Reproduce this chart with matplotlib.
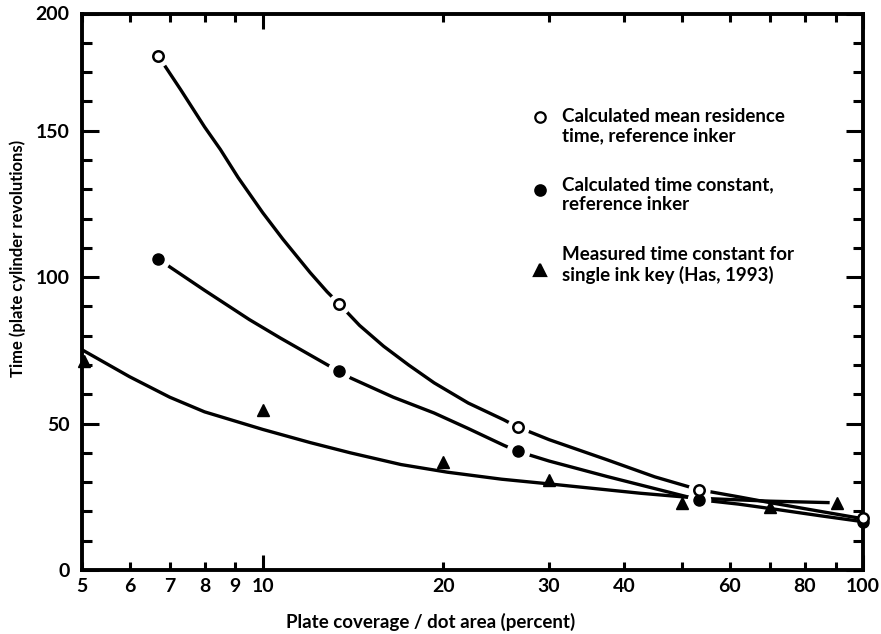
import numpy as np
import matplotlib
matplotlib.use("Agg")
import matplotlib.pyplot as plt
from matplotlib.ticker import FixedLocator, FixedFormatter, NullFormatter

plt.rcParams['font.family'] = ['Lato', 'DejaVu Sans']
plt.rcParams['font.weight'] = 'bold'

# Data points
mean_res_x = [6.7, 13.4, 26.6, 53.3, 100]
mean_res_y = [175.5, 90.9, 48.8, 27.4, 17.7]

time_const_x = [6.7, 13.4, 26.6, 53.3, 100]
time_const_y = [106.3, 67.8, 40.5, 24.0, 16.5]

measured_x = [5.03, 10, 20, 30, 50, 70, 90.5]
measured_y = [71.2, 54.7, 37.0, 30.8, 22.8, 21.5, 22.9]

# Fitted curves (traced points)
mean_curve_x = [6.7, 7.3, 8.0, 8.5, 9.1, 10.0, 10.8, 12.0, 12.8, 13.4, 14.5, 15.9, 17.5, 19.3,
                22, 25.2, 26.6, 30, 37.5, 45, 53.3, 62, 70, 85, 100]
mean_curve_y = [175.5, 164, 151.3, 143.6, 134, 122, 113, 101.5, 95, 90.9, 83.5, 76.4, 70, 63.9,
                57, 51.3, 48.8, 44.5, 37.6, 31.8, 27.4, 25, 23, 20, 17.5]

const_curve_x = [6.7, 7.0, 8.0, 9.5, 10.7, 12.8, 13.4, 14.0, 16.5, 19.3, 22, 25.2, 26.6, 30,
                 37.5, 49.6, 53.3, 62, 70, 85, 100]
const_curve_y = [106.3, 103.5, 95.5, 85.5, 79.2, 70.1, 67.8, 65.6, 59.0, 53.6, 48.3, 42.6, 40.5, 37.2,
                 31.9, 25.6, 24.0, 22.5, 21, 18.5, 16.5]

meas_curve_x = [5.0, 6.0, 7.0, 8.0, 10, 12, 14, 17, 20.3, 25, 30, 42.6, 53.3, 70, 88]
meas_curve_y = [75.2, 66, 59, 54, 48, 43.5, 40, 36, 33.4, 31, 29.4, 26.2, 24.5, 23.5, 23.0]

xtick_vals = [5, 6, 7, 8, 9, 20, 30, 40, 50, 60, 70, 80, 90]
xtick_labels = ['5', '6', '7', '8', '9', '20', '30', '40', '', '60', '', '80', '']
ytick_vals = [0, 50, 100, 150, 190]
ytick_labels = ['0', '50', '100', '150', '200']

fig = plt.figure(figsize=(8.81, 6.34), dpi=100)
ax = fig.add_axes([82/881, 64/634, 781/881, 556.5/634])

lw = 2.4
for cx, cy in [(mean_curve_x, mean_curve_y), (const_curve_x, const_curve_y),
               (meas_curve_x, meas_curve_y)]:
    ax.plot(cx, cy, color='black', lw=lw, zorder=2, solid_capstyle='butt',
            solid_joinstyle='round')

# white gaps around the circle markers
ax.plot(mean_res_x[:-1], mean_res_y[:-1], 'o', ms=16, color='white', mec='none', zorder=3)
ax.plot(time_const_x[:-1], time_const_y[:-1], 'o', ms=17, color='white', mec='none', zorder=3)

ax.plot(time_const_x, time_const_y, 'o', ms=8, color='black', zorder=4, clip_on=False)
ax.plot(mean_res_x, mean_res_y, 'o', ms=7.5, mfc='white', mec='black', mew=1.8, zorder=5, clip_on=False)
ax.plot(measured_x, measured_y, '^', ms=9, color='black', zorder=4, clip_on=False)

ax.set_xscale('log')
ax.set_xlim(5, 100)
ax.set_ylim(0, 190)

ax.xaxis.set_major_locator(FixedLocator([10, 100]))
ax.xaxis.set_major_formatter(FixedFormatter(['10', '100']))
ax.xaxis.set_minor_locator(FixedLocator(xtick_vals))
ax.xaxis.set_minor_formatter(FixedFormatter(xtick_labels))

ax.yaxis.set_major_locator(FixedLocator(ytick_vals))
ax.yaxis.set_major_formatter(FixedFormatter(ytick_labels))
ax.yaxis.set_minor_locator(FixedLocator(list(range(10, 190, 10))))
ax.yaxis.set_minor_formatter(NullFormatter())

ax.tick_params(axis='x', which='major', direction='in', length=11, width=2.2, top=True,
               labelsize=14, pad=6)
ax.tick_params(axis='x', which='minor', direction='in', length=6, width=2.2, top=True,
               labelsize=14, pad=6)
ax.tick_params(axis='y', which='major', direction='in', length=12, width=2.2, right=True,
               labelsize=14, pad=9)
ax.tick_params(axis='y', which='minor', direction='in', length=7, width=2.2, right=True)

for s in ax.spines.values():
    s.set_linewidth(2.8)

# legend drawn by hand
legend_items = [
    ('o', 'white', 0.814, 0.798, 'Calculated mean residence\ntime, reference inker'),
    ('o', 'black', 0.683, 0.674, 'Calculated time constant,\nreference inker'),
    ('^', 'black', 0.539, 0.548, 'Measured time constant for\nsingle ink key (Has, 1993)'),
]
for mk, fc, my, ty, txt in legend_items:
    ax.plot([0.586], [my], mk, ms=7.5 if mk == 'o' else 9, mfc=fc, mec='black', mew=1.6,
            transform=ax.transAxes, clip_on=False)
    ax.text(0.615, ty, txt, transform=ax.transAxes, fontsize=13.5, va='center', ha='left',
            linespacing=1.2)

fig.text(431/881, 12/634, 'Plate coverage / dot area (percent)', fontsize=13.5,
         ha='center', va='center')
fig.text(18/881, (634-258)/634, 'Time (plate cylinder revolutions)', fontsize=12,
         ha='center', va='center', rotation=90)

fig.savefig('out.png', dpi=100)
